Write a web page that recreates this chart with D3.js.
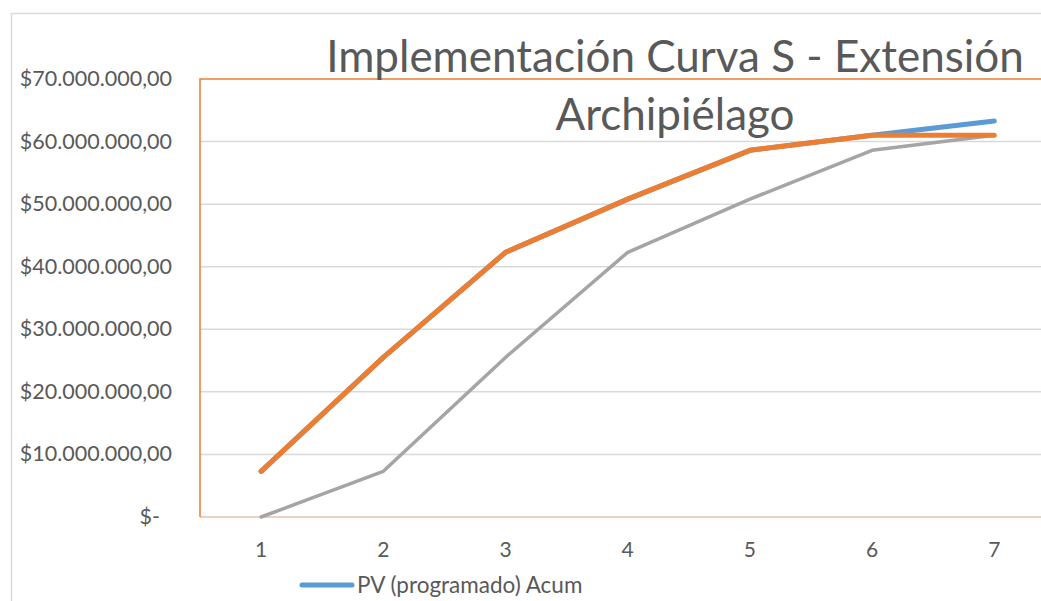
<!DOCTYPE html>
<html>
<head>
<meta charset="utf-8">
<script src="https://cdn.jsdelivr.net/npm/d3@7"></script>
<style>
  body { margin: 0; background: #fff; }
  text { font-family: Lato, "Open Sans", sans-serif; fill: #595959; }
</style>
</head>
<body>
<div id="chart"></div>
<script>
// Datos
var periods = [1, 2, 3, 4, 5, 6, 7]
var pvAcum = [7300000, 25500000, 42300000, 50800000, 58600000, 61000000, 63300000]
var evAcum = [7300000, 25500000, 42300000, 50800000, 58600000, 61000000, 61000000]
var acAcum = [0, 7300000, 25500000, 42300000, 50800000, 58600000, 61000000]
var yTicks = [0, 10000000, 20000000, 30000000, 40000000, 50000000, 60000000, 70000000]
var titleLines = ["Implementación Curva S - Extensión", "Archipiélago"]
var legendLabel = "PV (programado) Acum"

var W = 1041, H = 601
var plot = { left: 200, top: 79, bottom: 517, step: 122.2 }

var svg = d3.select("#chart").append("svg")
    .attr("width", W)
    .attr("height", H)

// outer chart border
svg.append("rect")
    .attr("x", 11.5).attr("y", 13.5)
    .attr("width", W + 20).attr("height", H + 20)
    .style("fill", "#fff")
    .style("stroke", "#d9d9d9")
    .style("stroke-width", 1.5)

var x = d3.scaleBand()
    .domain(periods)
    .range([plot.left, plot.left + plot.step * periods.length])

var y = d3.scaleLinear()
    .domain([0, 70000000])
    .range([plot.bottom, plot.top])

var xc = function(d) { return x(d) + x.bandwidth() / 2 }

// gridlines
svg.append("g").selectAll("line")
    .data(yTicks.slice(1, -1))
    .enter().append("line")
    .attr("x1", plot.left).attr("x2", W)
    .attr("y1", d => y(d)).attr("y2", d => y(d))
    .style("stroke", "#d9d9d9")
    .style("stroke-width", 1.5)

// bottom axis line
svg.append("line")
    .attr("x1", plot.left).attr("x2", W)
    .attr("y1", y(0)).attr("y2", y(0))
    .style("stroke", "#e8d2c4")
    .style("stroke-width", 2)

// plot area border (orange)
svg.append("path")
    .attr("d", "M" + plot.left + "," + y(0) + "V" + y(70000000) + "H" + W)
    .style("fill", "none")
    .style("stroke", "#ed7d31")
    .style("stroke-width", 1.5)

// y labels
svg.append("g").selectAll("text")
    .data(yTicks)
    .enter().append("text")
    .attr("x", d => d === 0 ? 160 : 172)
    .attr("y", d => y(d) + 7)
    .style("text-anchor", "end")
    .style("font-size", "21.5px")
    .text(d => d === 0 ? "$-" : "$" + d3.format(",.2f")(d).replace(/,/g, "#").replace(".", ",").replace(/#/g, "."))

// x labels
svg.append("g").selectAll("text")
    .data(periods)
    .enter().append("text")
    .attr("x", xc)
    .attr("y", 557)
    .style("text-anchor", "middle")
    .style("font-size", "21px")
    .text(d => d)

var line = d3.line()
    .x((d, i) => xc(periods[i]))
    .y(d => y(d))

var series = [
    { values: acAcum, color: "#a5a5a5", width: 3.5 },
    { values: pvAcum, color: "#5b9bd5", width: 5 },
    { values: evAcum, color: "#ed7d31", width: 5 }
]

svg.append("g").selectAll("path")
    .data(series)
    .enter().append("path")
    .attr("d", d => line(d.values))
    .style("fill", "none")
    .style("stroke", d => d.color)
    .style("stroke-width", d => d.width)
    .style("stroke-linecap", "round")
    .style("stroke-linejoin", "round")

// title
svg.append("g").selectAll("text")
    .data(titleLines)
    .enter().append("text")
    .attr("x", 675)
    .attr("y", (d, i) => 72 + i * 58)
    .style("text-anchor", "middle")
    .style("font-size", "44px")
    .text(d => d)

// legend
svg.append("line")
    .attr("x1", 302).attr("x2", 352)
    .attr("y1", 585).attr("y2", 585)
    .style("stroke", "#5b9bd5")
    .style("stroke-width", 5)
    .style("stroke-linecap", "round")

svg.append("text")
    .attr("x", 357)
    .attr("y", 593)
    .style("font-size", "22.5px")
    .text(legendLabel)
</script>
</body>
</html>
